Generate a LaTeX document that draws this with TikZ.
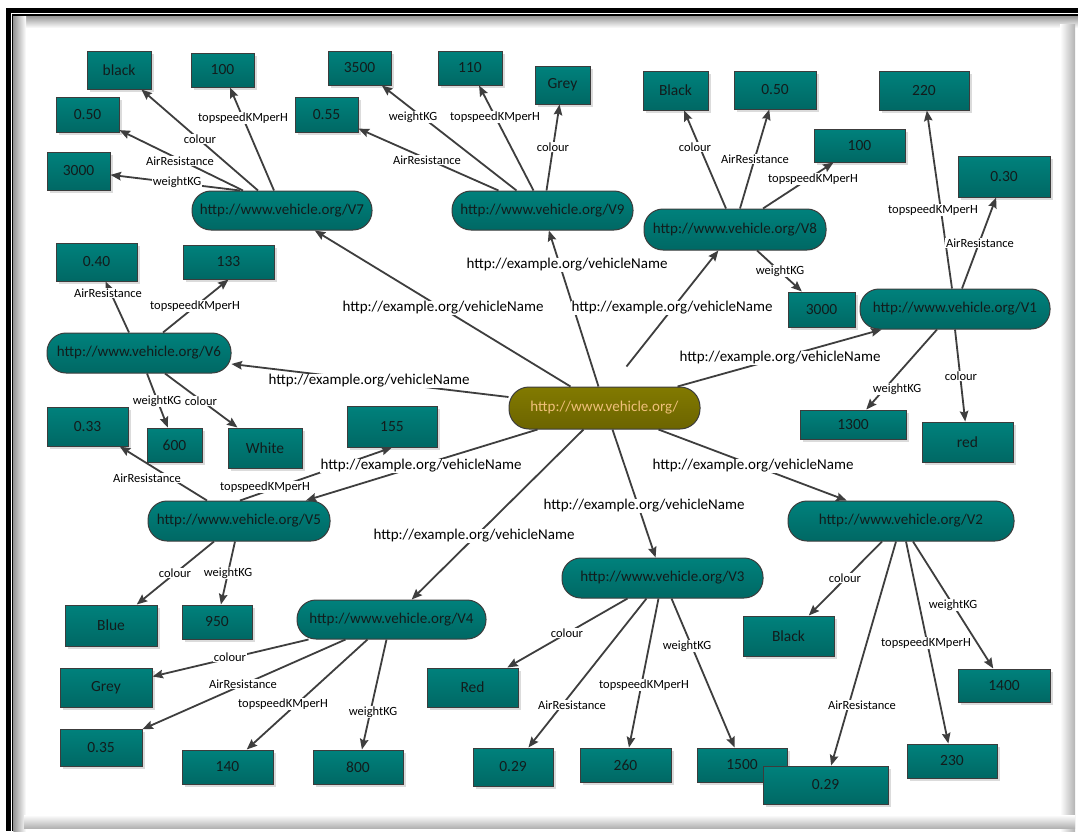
\documentclass[tikz,border=0pt]{standalone}
\usepackage{fontspec}
\setmainfont{Carlito}
\usetikzlibrary{arrows.meta,shadows}

\definecolor{tealA}{RGB}{0,129,124}
\definecolor{tealB}{RGB}{0,104,100}
\definecolor{oliveA}{RGB}{130,122,0}
\definecolor{oliveB}{RGB}{108,100,0}
\definecolor{tan}{RGB}{240,192,122}
\definecolor{ink}{RGB}{18,28,28}
\definecolor{edgegray}{RGB}{60,60,60}
\definecolor{wire}{RGB}{62,62,62}

\tikzset{
  sz/.style 2 args={minimum width=#1pt, minimum height=#2pt},
  pill/.style={rectangle, rounded corners=19pt, draw=edgegray, line width=1pt,
    top color=tealA, bottom color=tealB, text=ink, inner sep=0pt,
    font=\fontsize{15}{18}\selectfont},
  hub/.style={pill, rounded corners=20pt, top color=oliveA, bottom color=oliveB, text=tan},
  valbox/.style={rectangle, draw=edgegray, line width=1pt, top color=tealA,
    bottom color=tealB, text=ink, inner sep=0pt, font=\fontsize{15.5}{18}\selectfont,
    drop shadow={shadow xshift=2.5pt, shadow yshift=-2.5pt, fill=black!14, opacity=1}},
  lbl/.style={fill=white, inner sep=0.8pt, text=black, font=\fontsize{12.5}{14}\selectfont},
  nlbl/.style={fill=white, inner sep=0.8pt, text=black, font=\fontsize{15}{18}\selectfont},
  arr/.style={draw=wire, line width=1.8pt, -{Stealth[length=10.5pt,width=8.5pt,inset=1.5pt]}},
}

\begin{document}
\begin{tikzpicture}[x=1pt,y=-1pt]
\useasboundingbox (0,0) rectangle (1078,831);
\fill[white] (0,0) rectangle (1078,831);

% page frame: double rule on top and left, soft shadow inside
\shade[top color=black!42, bottom color=white] (13.3,15.5) rectangle (1078,28);
\shade[left color=black!42, right color=white] (13.3,15.5) rectangle (26,831);
\shade[left color=white, right color=black!30] (1060,24) rectangle (1075,831);
\shade[top color=white, bottom color=black!30] (24,815) rectangle (1075,828);
\fill[black] (6,8) rectangle (1078,13);
\fill[black] (6,8) rectangle (10.5,831);
\fill[black] (12,14) rectangle (1078,15.5);
\fill[black] (12,14) rectangle (13.3,831);

% resource nodes
\node[hub,sz={191}{42}] (C) at (604.5,408) {http://www.vehicle.org/};
\node[pill,sz={180}{39}] (V7) at (282,210.5) {http://www.vehicle.org/V7};
\node[pill,sz={181}{39}] (V9) at (542.5,210.5) {http://www.vehicle.org/V9};
\node[pill,sz={182}{41}] (V8) at (735,229.5) {http://www.vehicle.org/V8};
\node[pill,sz={190}{40}] (V1) at (955,309) {http://www.vehicle.org/V1};
\node[pill,sz={184}{40}] (V6) at (139,353) {http://www.vehicle.org/V6};
\node[pill,sz={182}{40}] (V5) at (239,521) {http://www.vehicle.org/V5};
\node[pill,sz={226}{40}] (V2) at (901,521) {http://www.vehicle.org/V2};
\node[pill,sz={201}{40}] (V3) at (662.5,578) {http://www.vehicle.org/V3};
\node[pill,sz={189}{39}] (V4) at (391.5,619.5) {http://www.vehicle.org/V4};

% literal values
\node[valbox,sz={64}{38}] (V7col) at (119,70) {black};
\node[valbox,sz={63}{34}] (V7top) at (222.5,70) {100};
\node[valbox,sz={63}{35}] (V7air) at (87.5,114.5) {0.50};
\node[valbox,sz={63}{38}] (V7wt) at (78.5,171) {3000};
\node[valbox,sz={63}{35}] (V9air) at (326.5,114.5) {0.55};
\node[valbox,sz={63}{34}] (V9wt) at (359.5,68) {3500};
\node[valbox,sz={64}{34}] (V9top) at (470,68) {110};
\node[valbox,sz={55}{38}] (V9col) at (562.5,85) {Grey};
\node[valbox,sz={65}{39}] (V8col) at (675.5,90.5) {Black};
\node[valbox,sz={82}{38}] (V8air) at (775,90) {0.50};
\node[valbox,sz={91}{33}] (V8top) at (859.5,145.5) {100};
\node[valbox,sz={67}{35}] (V8wt) at (821.5,309.5) {3000};
\node[valbox,sz={90}{39}] (V1top) at (924,90.5) {220};
\node[valbox,sz={92}{41}] (V1air) at (1004,176.5) {0.30};
\node[valbox,sz={106}{29}] (V1wt) at (853,424.5) {1300};
\node[valbox,sz={91}{40}] (V1col) at (967.5,442) {red};
\node[valbox,sz={81}{38}] (V6air) at (96.5,262) {0.40};
\node[valbox,sz={91}{34}] (V6top) at (228.5,262) {133};
\node[valbox,sz={55}{34}] (V6wt) at (174.5,445) {600};
\node[valbox,sz={74}{40}] (V6col) at (265,448) {White};
\node[valbox,sz={81}{39}] (V5air) at (87.5,426.5) {0.33};
\node[valbox,sz={90}{41}] (V5top) at (392,426.5) {155};
\node[valbox,sz={92}{41}] (V5col) at (111,625.5) {Blue};
\node[valbox,sz={70}{34}] (V5wt) at (217,622) {950};
\node[valbox,sz={92}{39}] (V4col) at (106,687.5) {Grey};
\node[valbox,sz={82}{37}] (V4air) at (101,747.5) {0.35};
\node[valbox,sz={91}{34}] (V4top) at (227.5,767) {140};
\node[valbox,sz={90}{34}] (V4wt) at (358,767) {800};
\node[valbox,sz={91}{39}] (V3col) at (472.5,687.5) {Red};
\node[valbox,sz={80}{38}] (V3air) at (513,767) {0.29};
\node[valbox,sz={91}{34}] (V3top) at (625.5,765) {260};
\node[valbox,sz={90}{34}] (V3wt) at (742,765) {1500};
\node[valbox,sz={91}{40}] (V2col) at (788.5,636) {Black};
\node[valbox,sz={125}{38}] (V2air) at (825.5,785) {0.29};
\node[valbox,sz={90}{34}] (V2top) at (952,761) {230};
\node[valbox,sz={92}{33}] (V2wt) at (1004,685.5) {1400};

% vehicleName links from the hub
\draw[arr] ([xshift=-34pt]C.north) -- (V7);
\draw[arr] ([xshift=-6pt]C.north) -- (V9);
\draw[arr] ([xshift=22pt,yshift=20pt]C.north) -- (V8);
\draw[arr] ([xshift=73pt]C.north) -- (V1);
\draw[arr] ([yshift=11pt]C.west) -- (V6);
\draw[arr] ([xshift=-67pt]C.south) -- (V5);
\draw[arr] ([xshift=-21pt]C.south) -- (V4);
\draw[arr] ([xshift=8pt]C.south) -- (V3);
\draw[arr] ([xshift=54pt]C.south) -- (V2);

% property links
\draw[arr] ([xshift=-24pt]V7.north) -- (V7col);
\draw[arr] ([xshift=-8pt]V7.north) -- (V7top);
\draw[arr] ([xshift=-39pt]V7.north) -- (V7air);
\draw[arr] ([xshift=-42pt]V7.north) -- (V7wt);

\draw[arr] ([xshift=-26pt]V9.north) -- (V9wt);
\draw[arr] ([xshift=-44pt]V9.north) -- (V9air);
\draw[arr] ([xshift=-9pt]V9.north) -- (V9top);
\draw[arr] ([xshift=4pt]V9.north) -- (V9col);

\draw[arr] ([xshift=-9pt]V8.north) -- (V8col);
\draw[arr] ([xshift=5pt]V8.north) -- (V8air);
\draw[arr] ([xshift=28pt]V8.north) -- (V8top);
\draw[arr] ([xshift=22pt]V8.south) -- (V8wt);

\draw[arr] ([xshift=-3pt]V1.north) -- (V1top);
\draw[arr] ([xshift=7pt]V1.north) -- (V1air);
\draw[arr] ([xshift=-18pt]V1.south) -- (V1wt);
\draw[arr] (V1.south) -- (V1col);

\draw[arr] ([xshift=-10pt]V6.north) -- (V6air);
\draw[arr] ([xshift=24pt]V6.north) -- (V6top.south);
\draw[arr] ([xshift=8pt]V6.south) -- (V6wt);
\draw[arr] ([xshift=26pt]V6.south) -- (V6col);

\draw[arr] ([xshift=-32pt]V5.north) -- (V5air);
\draw[arr] ([xshift=1pt]V5.north) -- (V5top.south);
\draw[arr] ([xshift=-25pt]V5.south) -- (V5col);
\draw[arr] ([xshift=-4pt]V5.south) -- (V5wt);

\draw[arr] ([xshift=-83pt]V4.south) -- (V4col);
\draw[arr] ([xshift=-46pt]V4.south) -- (V4air);
\draw[arr] ([xshift=-24pt]V4.south) -- (V4top);
\draw[arr] ([xshift=-5pt]V4.south) -- (V4wt);

\draw[arr] ([xshift=-35pt]V3.south) -- (V3col);
\draw[arr] ([xshift=-16pt]V3.south) -- (V3air);
\draw[arr] ([xshift=-4pt]V3.south) -- (V3top);
\draw[arr] ([xshift=9pt]V3.south) -- (V3wt);

\draw[arr] ([xshift=-19pt]V2.south) -- (V2col);
\draw[arr] ([xshift=-5pt]V2.south) -- (V2air);
\draw[arr] ([xshift=5pt]V2.south) -- (V2top);
\draw[arr] ([xshift=12pt]V2.south) -- (V2wt);

% link labels
\node[nlbl] (nV7) at (443,308) {http://example.org/vehicleName};
\node[nlbl] (nV9) at (567,265) {http://example.org/vehicleName};
\node[nlbl] (nV8) at (672,308) {http://example.org/vehicleName};
\node[nlbl] (nV1) at (780,358) {http://example.org/vehicleName};
\node[nlbl] (nV6) at (369,381) {http://example.org/vehicleName};
\node[nlbl] (nV5) at (421,466) {http://example.org/vehicleName};
\node[nlbl] (nV4) at (474,536) {http://example.org/vehicleName};
\node[nlbl] (nV3) at (644,506) {http://example.org/vehicleName};
\node[nlbl] (nV2) at (753,466) {http://example.org/vehicleName};

\node[lbl] (a7c) at (200,139) {colour};
\node[lbl] (a7t) at (243,118) {topspeedKMperH};
\node[lbl] (a7a) at (180,161) {AirResistance};
\node[lbl] (a7w) at (177,182) {weightKG};

\node[lbl] (a9w) at (413,117) {weightKG};
\node[lbl] (a9t) at (495,117) {topspeedKMperH};
\node[lbl] (a9c) at (553,147) {colour};
\node[lbl] (a9a) at (427,160) {AirResistance};

\node[lbl] (a8c) at (695,147) {colour};
\node[lbl] (a8a) at (755,159) {AirResistance};
\node[lbl] (a8t) at (813,179) {topspeedKMperH};
\node[lbl] (a8w) at (780,271) {weightKG};

\node[lbl] (a1t) at (933,210) {topspeedKMperH};
\node[lbl] (a1a) at (980,243) {AirResistance};
\node[lbl] (a1w) at (897,389) {weightKG};
\node[lbl] (a1c) at (961,376) {colour};

\node[lbl] (a6a) at (108,293) {AirResistance};
\node[lbl] (a6t) at (195,306) {topspeedKMperH};
\node[lbl] (a6w) at (157,401) {weightKG};
\node[lbl] (a6c) at (201,401) {colour};

\node[lbl] (a5a) at (147,478) {AirResistance};
\node[lbl] (a5t) at (265,487) {topspeedKMperH};
\node[lbl] (a5c) at (175,573) {colour};
\node[lbl] (a5w) at (228,573) {weightKG};

\node[lbl] (a4c) at (230,657) {colour};
\node[lbl] (a4a) at (243,684) {AirResistance};
\node[lbl] (a4t) at (283,704) {topspeedKMperH};
\node[lbl] (a4w) at (373,712) {weightKG};

\node[lbl] (a3c) at (567,633) {colour};
\node[lbl] (a3a) at (572,705) {AirResistance};
\node[lbl] (a3t) at (644,685) {topspeedKMperH};
\node[lbl] (a3w) at (687,646) {weightKG};

\node[lbl] (a2c) at (845,578) {colour};
\node[lbl] (a2a) at (862,705) {AirResistance};
\node[lbl] (a2t) at (926,643) {topspeedKMperH};
\node[lbl] (a2w) at (953,605) {weightKG};
\end{tikzpicture}
\end{document}
